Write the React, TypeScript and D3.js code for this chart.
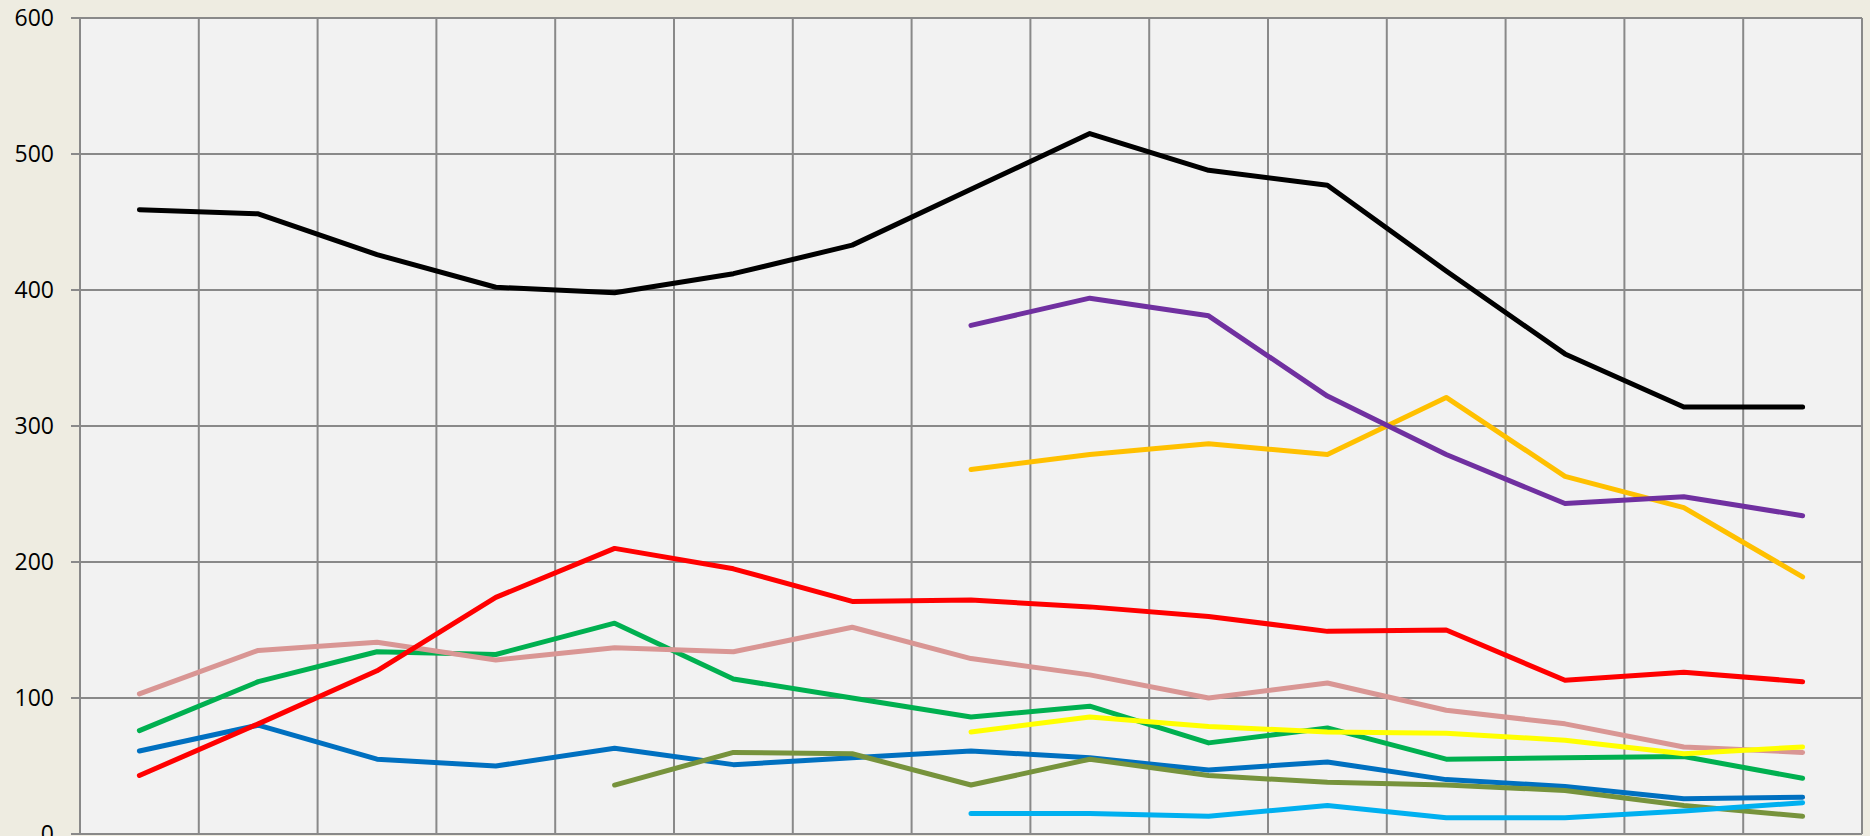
import React from 'react';
import * as d3 from 'd3';

const categories = ['1', '2', '3', '4', '5', '6', '7', '8', '9', '10', '11', '12', '13', '14', '15'];
const yTicks = [0, 100, 200, 300, 400, 500, 600];

const _ = null;
const blackSeries = [459, 456, 426, 402, 398, 412, 433, 474, 515, 488, 477, 414, 353, 314, 314];
const purpleSeries = [_, _, _, _, _, _, _, 374, 394, 381, 322, 279, 243, 248, 234];
const orangeSeries = [_, _, _, _, _, _, _, 268, 279, 287, 279, 321, 263, 240, 189];
const redSeries = [43, 81, 120, 174, 210, 195, 171, 172, 167, 160, 149, 150, 113, 119, 112];
const pinkSeries = [103, 135, 141, 128, 137, 134, 152, 129, 117, 100, 111, 91, 81, 64, 60];
const greenSeries = [76, 112, 134, 132, 155, 114, 100, 86, 94, 67, 78, 55, 56, 57, 41];
const blueSeries = [61, 80, 55, 50, 63, 51, 56, 61, 56, 47, 53, 40, 35, 26, 27];
const oliveSeries = [_, _, _, _, 36, 60, 59, 36, 55, 43, 38, 36, 32, 21, 13];
const yellowSeries = [_, _, _, _, _, _, _, 75, 86, 79, 75, 74, 69, 59, 64];
const cyanSeries = [_, _, _, _, _, _, _, 15, 15, 13, 21, 12, 12, 17, 23];

// drawing order: later ones sit on top
const series = [
  { name: 'blue', color: '#0070C0', values: blueSeries },
  { name: 'green', color: '#00B050', values: greenSeries },
  { name: 'pink', color: '#D99694', values: pinkSeries },
  { name: 'red', color: '#FF0000', values: redSeries },
  { name: 'olive', color: '#77933C', values: oliveSeries },
  { name: 'black', color: '#000000', values: blackSeries },
  { name: 'orange', color: '#FFC000', values: orangeSeries },
  { name: 'purple', color: '#7030A0', values: purpleSeries },
  { name: 'yellow', color: '#FFFF00', values: yellowSeries },
  { name: 'cyan', color: '#00B0F0', values: cyanSeries },
];

const W = 1870;
const H = 836;
const margin = { top: 18, right: 8, bottom: 2, left: 80 };

export default function App() {
  const x = d3.scaleBand<string>()
    .domain(categories)
    .range([margin.left, W - margin.right]);

  const y = d3.scaleLinear()
    .domain([0, 600])
    .range([H - margin.bottom, margin.top]);

  const line = d3.line<number | null>()
    .defined(d => d !== null)
    .x((d, i) => (x(categories[i]) as number) + x.bandwidth() / 2)
    .y(d => y(d as number));

  const gridX = [...categories.map(c => x(c) as number), W - margin.right];

  return (
    <div style={{ position: 'absolute', left: 0, top: 0 }}>
      <svg width={W} height={H} style={{ display: 'block' }}>
        <rect x={0} y={0} width={W} height={H} fill="#EEECE1" />
        <rect
          x={margin.left}
          y={margin.top}
          width={W - margin.left - margin.right}
          height={H - margin.top - margin.bottom}
          fill="#F2F2F2"
        />
        {yTicks.map(t => (
          <line key={'h' + t} x1={margin.left - 9} x2={W - margin.right} y1={y(t)} y2={y(t)}
            stroke="#898989" strokeWidth={2} />
        ))}
        {gridX.map((gx, i) => (
          <line key={'v' + i} x1={gx} x2={gx} y1={margin.top} y2={H - margin.bottom}
            stroke="#898989" strokeWidth={2} />
        ))}
        {yTicks.map(t => (
          <text key={'l' + t} x={54} y={y(t)} dy="0.36em" textAnchor="end"
            fontFamily="'Open Sans', sans-serif" fontSize={23} fill="#000">
            {t}
          </text>
        ))}
        {series.map(s => (
          <path key={s.name} d={line(s.values) || ''} fill="none" stroke={s.color}
            strokeWidth={5} strokeLinecap="round" strokeLinejoin="round" />
        ))}
      </svg>
    </div>
  );
}
